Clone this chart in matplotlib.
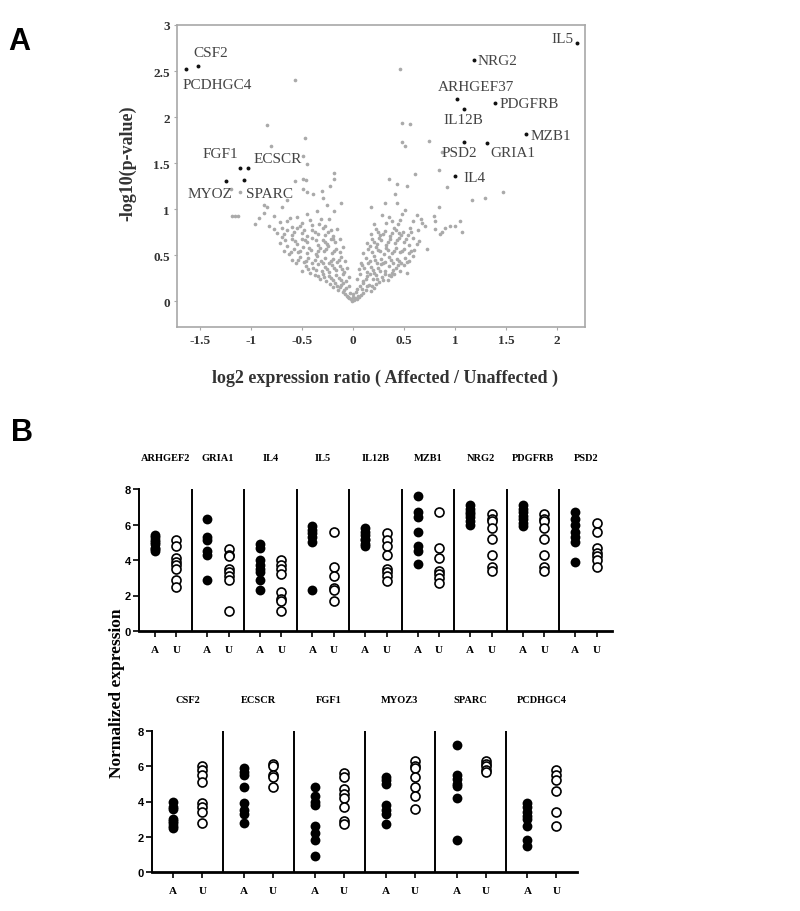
import matplotlib
matplotlib.use('Agg')
import matplotlib.pyplot as plt
import matplotlib.transforms as mtransforms

# ---- panel A data (volcano plot) ----
# background genes, (log2 ratio, -log10 p)
cloud_pts = [
    (-0.02, 0.02), (0.02, 0.03), (-0.05, 0.05), (0.05, 0.06), (0.0, 0.04), (-0.08, 0.08),
    (0.08, 0.07), (-0.03, 0.09), (0.03, 0.1), (-0.1, 0.1), (0.1, 0.09), (0.0, 0.08),
    (-0.2, 0.15), (-0.15, 0.12), (-0.12, 0.18), (-0.07, 0.14), (-0.04, 0.17), (0.04, 0.13),
    (0.07, 0.16), (0.12, 0.12), (0.15, 0.18), (0.2, 0.14), (0.22, 0.19), (-0.23, 0.19),
    (-0.18, 0.2), (0.17, 0.11), (-0.1, 0.2), (0.1, 0.2),
    (-0.38, 0.28), (-0.33, 0.24), (-0.3, 0.29), (-0.27, 0.22), (-0.24, 0.27), (-0.2, 0.23),
    (-0.17, 0.28), (-0.14, 0.25), (-0.1, 0.3), (-0.07, 0.22), (-0.04, 0.26), (0.04, 0.24),
    (0.07, 0.29), (0.1, 0.22), (0.13, 0.27), (0.16, 0.3), (0.19, 0.24), (0.22, 0.28),
    (0.25, 0.21), (0.28, 0.26), (0.31, 0.3), (0.34, 0.23), (0.37, 0.27), (0.4, 0.3),
    (-0.5, 0.33), (-0.46, 0.38), (-0.42, 0.31), (-0.39, 0.36), (-0.35, 0.4), (-0.31, 0.33),
    (-0.28, 0.37), (-0.24, 0.32), (-0.21, 0.39), (-0.17, 0.34), (-0.13, 0.38), (-0.09, 0.32),
    (-0.06, 0.36), (0.06, 0.35), (0.09, 0.39), (0.13, 0.32), (0.17, 0.37), (0.2, 0.31),
    (0.24, 0.36), (0.27, 0.4), (0.31, 0.33), (0.35, 0.38), (0.38, 0.31), (0.42, 0.36),
    (0.46, 0.33), (0.5, 0.39), (0.53, 0.31),
    (-0.6, 0.45), (-0.56, 0.41), (-0.52, 0.48), (-0.48, 0.43), (-0.44, 0.47), (-0.4, 0.42),
    (-0.36, 0.49), (-0.32, 0.44), (-0.28, 0.47), (-0.24, 0.41), (-0.2, 0.46), (-0.16, 0.43),
    (-0.12, 0.48), (-0.08, 0.44), (0.08, 0.42), (0.12, 0.47), (0.16, 0.44), (0.2, 0.49),
    (0.23, 0.41), (0.27, 0.46), (0.31, 0.43), (0.35, 0.48), (0.39, 0.42), (0.43, 0.46),
    (0.47, 0.41), (0.51, 0.47), (0.55, 0.44), (0.59, 0.49),
    (-0.68, 0.55), (-0.63, 0.51), (-0.58, 0.57), (-0.54, 0.53), (-0.49, 0.59), (-0.45, 0.52),
    (-0.41, 0.56), (-0.37, 0.51), (-0.33, 0.58), (-0.29, 0.54), (-0.25, 0.6), (-0.21, 0.52),
    (-0.17, 0.57), (-0.13, 0.53), (-0.1, 0.59), (0.1, 0.52), (0.14, 0.57), (0.18, 0.53),
    (0.22, 0.59), (0.26, 0.54), (0.3, 0.51), (0.34, 0.56), (0.38, 0.52), (0.42, 0.58),
    (0.46, 0.53), (0.5, 0.57), (0.55, 0.52), (0.6, 0.56), (0.72, 0.57),
    (-0.72, 0.63), (-0.65, 0.6), (-0.6, 0.67), (-0.55, 0.62), (-0.5, 0.68), (-0.45, 0.64),
    (-0.4, 0.69), (-0.35, 0.61), (-0.3, 0.66), (-0.26, 0.62), (-0.22, 0.68), (-0.18, 0.64),
    (-0.13, 0.67), (0.13, 0.63), (0.18, 0.68), (0.23, 0.62), (0.27, 0.66), (0.32, 0.61),
    (0.36, 0.67), (0.41, 0.63), (0.45, 0.69), (0.5, 0.64), (0.55, 0.61), (0.59, 0.69),
    (0.64, 0.65),
    (-0.75, 0.74), (-0.7, 0.7), (-0.65, 0.77), (-0.6, 0.72), (-0.55, 0.79), (-0.5, 0.74),
    (-0.45, 0.71), (-0.4, 0.77), (-0.35, 0.73), (-0.3, 0.79), (-0.25, 0.75), (-0.2, 0.71),
    (-0.16, 0.78), (0.17, 0.73), (0.22, 0.78), (0.26, 0.72), (0.31, 0.76), (0.36, 0.71),
    (0.4, 0.79), (0.45, 0.74), (0.49, 0.75), (0.54, 0.72), (0.63, 0.77), (0.8, 0.78),
    (0.85, 0.73), (0.87, 0.75),
    (-0.96, 0.84), (-0.88, 0.96), (-0.83, 0.82), (-0.78, 0.93), (-0.78, 0.78), (-0.72, 0.86),
    (-0.65, 0.87), (-0.6, 0.81), (-0.55, 0.91), (-0.5, 0.85), (-0.45, 0.95), (-0.4, 0.83),
    (-0.36, 0.98), (-0.32, 0.89), (-0.24, 0.89), (-0.19, 0.98), (-0.28, 0.82), (0.2, 0.84),
    (0.28, 0.94), (0.35, 0.91), (0.38, 0.87), (0.44, 0.84), (0.51, 0.99), (0.59, 0.87),
    (0.66, 0.89), (0.67, 0.85), (0.79, 0.93), (0.8, 0.87), (0.84, 1.02), (0.95, 0.82),
    (1.0, 0.82), (1.05, 0.87), (1.07, 0.75), (0.48, 0.95),
    (-1.19, 0.93), (-1.16, 0.93), (-1.13, 0.93), (-0.88, 1.05), (-0.85, 1.02), (-0.57, 1.3),
    (-0.49, 1.33), (-0.46, 1.32), (-0.49, 1.22), (-0.45, 1.19), (-0.39, 1.16), (-0.31, 1.2),
    (-0.3, 1.12), (-0.19, 1.39), (-0.19, 1.33), (-0.23, 1.25), (-0.12, 1.07), (-0.26, 1.05),
    (0.17, 1.02), (0.31, 1.07), (0.43, 1.07), (0.35, 1.33), (0.43, 1.27), (0.53, 1.25),
    (0.41, 1.16), (0.61, 1.38), (0.84, 1.42), (0.92, 1.24), (1.16, 1.1), (1.29, 1.12),
    (1.47, 1.19), (-1.11, 1.19), (-1.2, 1.22), (-0.65, 1.1), (-0.7, 1.02),
    (0.46, 2.52), (-0.57, 2.4), (-0.85, 1.91), (-0.47, 1.77), (-0.81, 1.69), (-0.49, 1.58),
    (-0.45, 1.49), (0.48, 1.94), (0.56, 1.92), (0.48, 1.73), (0.51, 1.69), (0.74, 1.74),
    (0.87, 1.62),
    # second pass over the dense V
    (-0.01, 0.0), (0.01, 0.01), (-0.04, 0.03), (0.04, 0.02), (-0.06, 0.06), (0.06, 0.04),
    (-0.09, 0.12), (0.09, 0.13), (-0.13, 0.15), (0.13, 0.16), (-0.16, 0.17), (0.18, 0.16),
    (-0.12, 0.23), (0.12, 0.24), (-0.22, 0.25), (0.23, 0.24), (-0.29, 0.26), (0.29, 0.23),
    (-0.35, 0.27), (0.35, 0.28), (-0.44, 0.35), (0.44, 0.39), (-0.37, 0.34), (0.39, 0.34),
    (-0.26, 0.35), (0.26, 0.33), (-0.19, 0.36), (0.19, 0.34), (-0.11, 0.35), (0.11, 0.36),
    (-0.54, 0.45), (0.53, 0.43), (-0.46, 0.44), (0.45, 0.44), (-0.38, 0.45), (0.37, 0.45),
    (-0.3, 0.42), (0.29, 0.41), (-0.22, 0.44), (0.21, 0.45), (-0.14, 0.45), (0.14, 0.41),
    (-0.61, 0.53), (0.57, 0.54), (-0.52, 0.55), (0.48, 0.55), (-0.43, 0.58), (0.4, 0.55),
    (-0.35, 0.55), (0.32, 0.58), (-0.27, 0.57), (0.24, 0.56), (-0.19, 0.55), (0.16, 0.6),
    (-0.67, 0.66), (0.62, 0.62), (-0.57, 0.65), (0.52, 0.67), (-0.47, 0.66), (0.43, 0.66),
    (-0.37, 0.66), (0.34, 0.64), (-0.28, 0.64), (0.25, 0.69), (-0.2, 0.67), (0.2, 0.64),
    (-0.68, 0.73), (0.57, 0.75), (-0.58, 0.75), (0.47, 0.72), (-0.48, 0.77), (0.38, 0.74),
    (-0.38, 0.75), (0.29, 0.73), (-0.28, 0.72), (0.24, 0.75), (-0.22, 0.77), (0.42, 0.77),
    (-0.7, 0.8), (0.7, 0.82), (-0.52, 0.82), (0.56, 0.8), (-0.42, 0.88), (0.46, 0.88),
    (-0.34, 0.84), (0.32, 0.85), (-0.62, 0.9), (0.62, 0.94), (-0.92, 0.9), (0.9, 0.8),
]

hl_names = ['IL5', 'NRG2', 'ARHGEF37', 'PDGFRB', 'IL12B', 'MZB1', 'PSD2', 'GRIA1', 'IL4',
            'CSF2', 'PCDHGC4', 'FGF1', 'ECSCR', 'MYOZ', 'SPARC']
hl_x = [2.19, 1.18, 1.02, 1.39, 1.09, 1.69, 1.09, 1.31, 1.00,
        -1.52, -1.64, -1.11, -1.03, -1.25, -1.07]
hl_y = [2.80, 2.62, 2.20, 2.15, 2.09, 1.82, 1.73, 1.72, 1.36,
        2.55, 2.52, 1.45, 1.45, 1.30, 1.32]

vol_xticks = [-1.5, -1, -0.5, 0, 0.5, 1, 1.5, 2]
vol_xlabels = ['-1.5', '-1', '-0.5', '0', '0.5', '1', '1.5', '2']
vol_yticks = [0, 0.5, 1, 1.5, 2, 2.5, 3]
vol_ylabels = ['0', '0.5', '1', '1.5', '2', '2.5', '3']

# ---- panel B data (normalized expression, A = affected, U = unaffected) ----
top_genes = ['ARHGEF2', 'GRIA1', 'IL4', 'IL5', 'IL12B', 'MZB1', 'NRG2', 'PDGFRB', 'PSD2']
top_A = [
    [5.4, 5.3, 5.1, 5.0, 4.9, 4.7, 4.6, 4.5],
    [6.3, 5.3, 5.1, 4.5, 4.3, 2.9],
    [4.9, 4.7, 4.0, 3.7, 3.5, 3.3, 2.9, 2.3],
    [5.9, 5.7, 5.5, 5.3, 5.0, 2.3],
    [5.8, 5.6, 5.4, 5.2, 5.1, 4.9, 4.8],
    [7.6, 6.7, 6.4, 5.6, 4.8, 4.5, 3.8],
    [7.1, 6.9, 6.7, 6.6, 6.4, 6.2, 6.0],
    [7.1, 6.9, 6.7, 6.5, 6.3, 6.1, 5.9],
    [6.7, 6.3, 6.0, 5.6, 5.3, 5.0, 3.9],
]
top_U = [
    [5.1, 4.8, 4.1, 3.9, 3.7, 3.5, 2.9, 2.5],
    [4.6, 4.3, 4.2, 3.5, 3.3, 3.1, 2.9, 1.1],
    [4.0, 3.7, 3.5, 3.2, 2.2, 1.8, 1.7, 1.1],
    [5.6, 3.6, 3.1, 2.4, 2.3, 1.7],
    [5.5, 5.1, 4.8, 4.3, 3.5, 3.3, 3.1, 2.8],
    [6.7, 4.7, 4.1, 3.4, 3.2, 3.0, 2.7],
    [6.6, 6.3, 6.2, 5.8, 5.2, 4.3, 3.6, 3.4],
    [6.6, 6.3, 6.2, 5.8, 5.2, 4.3, 3.6, 3.4],
    [6.1, 5.6, 4.7, 4.4, 4.2, 4.0, 3.6],
]

bot_genes = ['CSF2', 'ECSCR', 'FGF1', 'MYOZ3', 'SPARC', 'PCDHGC4']
bot_A = [
    [4.0, 3.7, 3.6, 3.0, 2.9, 2.8, 2.6, 2.5],
    [5.9, 5.7, 5.5, 4.8, 3.9, 3.5, 3.3, 2.8],
    [4.8, 4.3, 4.0, 3.8, 2.6, 2.2, 1.8, 0.9],
    [5.4, 5.2, 5.0, 3.8, 3.5, 3.3, 2.7],
    [7.2, 5.5, 5.3, 5.0, 4.9, 4.2, 1.8],
    [3.9, 3.7, 3.4, 3.2, 3.0, 2.6, 1.8, 1.5],
]
bot_U = [
    [6.0, 5.8, 5.5, 5.1, 3.9, 3.7, 3.4, 2.8],
    [6.1, 6.0, 5.5, 5.4, 4.8],
    [5.6, 5.4, 4.7, 4.4, 4.2, 3.7, 2.9, 2.7],
    [6.3, 6.0, 5.9, 5.4, 4.8, 4.3, 3.6],
    [6.3, 6.1, 6.0, 5.8, 5.7],
    [5.8, 5.5, 5.2, 4.6, 3.4, 2.6],
]

groups = ['A', 'U']
expr_yticks = [0, 2, 4, 6, 8]

SERIF = 'Liberation Serif'
SANS = 'Liberation Sans'

# label offsets from the highlighted point (dx, dy, ha) - layout only
lbl_off = {
    'IL5': (-0.03, 0.05, 'right'), 'NRG2': (0.04, -0.01, 'left'),
    'ARHGEF37': (0.18, 0.13, 'center'), 'PDGFRB': (0.04, 0.0, 'left'),
    'IL12B': (-0.01, -0.12, 'center'), 'MZB1': (0.05, -0.02, 'left'),
    'PSD2': (-0.05, -0.11, 'center'), 'GRIA1': (0.03, -0.10, 'left'),
    'IL4': (0.08, -0.02, 'left'), 'CSF2': (0.125, 0.15, 'center'),
    'PCDHGC4': (0.305, -0.17, 'center'), 'FGF1': (-0.19, 0.15, 'center'),
    'ECSCR': (0.29, 0.10, 'center'), 'MYOZ': (-0.15, -0.13, 'center'),
    'SPARC': (0.25, -0.15, 'center'),
}

fig = plt.figure(figsize=(8, 9.12), dpi=100)

# ================= panel A =================
axA = fig.add_axes([0.221, 0.6404, 0.51, 0.3311])
cx = [p[0] for p in cloud_pts]
cy = [p[1] for p in cloud_pts]
axA.scatter(cx, cy, s=7, color='#aaaaaa', linewidths=0)
axA.scatter(hl_x, hl_y, s=8, color='#111111', linewidths=0, zorder=3)
for name, x, y in zip(hl_names, hl_x, hl_y):
    dx, dy, ha = lbl_off[name]
    axA.text(x + dx, y + dy, name, ha=ha, va='center', fontsize=11,
             family=SERIF, color='#444444')
axA.set_xlim(-1.73, 2.27)
axA.set_ylim(-0.28, 3.0)
axA.set_xticks(vol_xticks)
axA.set_xticklabels(vol_xlabels)
axA.set_yticks(vol_yticks)
axA.set_yticklabels(vol_ylabels)
for sp in axA.spines.values():
    sp.set_color('#a8a8a8')
    sp.set_linewidth(1.2)
axA.tick_params(length=2, color='#a8a8a8', pad=3, labelsize=9.5, labelcolor='#333333')
for lab in axA.get_xticklabels() + axA.get_yticklabels():
    lab.set_family(SERIF)
    lab.set_fontweight('bold')
fig.text(385 / 800, 1 - 378 / 912, 'log2 expression ratio ( Affected / Unaffected )',
         ha='center', va='center', fontsize=13, family=SERIF, fontweight='bold',
         color='#333333')
fig.text(128 / 800, 1 - 163 / 912, '-log10(p-value)', ha='center', va='center',
         rotation=90, fontsize=13, family=SERIF, fontweight='bold', color='#333333')
fig.text(19 / 800, 1 - 42 / 912, 'A', ha='center', va='center', fontsize=22,
         family=SANS, fontweight='bold')


# ================= panel B =================
def dot_row(ax, genes, vals_A, vals_U):
    n = len(genes)
    xpos = {'A': 0.3, 'U': 0.71}
    for i, g in enumerate(genes):
        ax.scatter([i + xpos['A']] * len(vals_A[i]), vals_A[i], s=50, color='black',
                   linewidths=0, zorder=3, clip_on=False)
        ax.scatter([i + xpos['U']] * len(vals_U[i]), vals_U[i], s=42, facecolors='white',
                   edgecolors='black', linewidths=1.2, zorder=3, clip_on=False)
        ax.text(i + 0.5, 1.22, g, transform=mtransforms.blended_transform_factory(ax.transData, ax.transAxes),
                ha='center', va='center', fontsize=7.5, family=SERIF, fontweight='bold')
        if i > 0:
            ax.plot([i, i], [0, 8], color='black', lw=1.4, zorder=2, solid_capstyle='butt')
    ticks = []
    labels = []
    for i in range(n):
        for gr in groups:
            ticks.append(i + xpos[gr])
            labels.append(gr)
    ax.set_xticks(ticks)
    ax.set_xticklabels(labels)
    ax.set_xlim(0, n)
    ax.set_ylim(0, 8)
    ax.set_yticks(expr_yticks)
    ax.spines['top'].set_visible(False)
    ax.spines['right'].set_visible(False)
    ax.spines['left'].set_linewidth(1.4)
    ax.spines['bottom'].set_linewidth(2.0)
    ax.tick_params(axis='x', length=4, width=1.2, pad=6, labelsize=8)
    ax.tick_params(axis='y', length=4, width=1.2, pad=2, labelsize=8)
    for lab in ax.get_xticklabels():
        lab.set_family(SERIF)
        lab.set_fontweight('bold')
    for lab in ax.get_yticklabels():
        lab.set_family(SANS)
        lab.set_fontweight('bold')


axB1 = fig.add_axes([139 / 800, 1 - 632 / 912, (612 - 139) / 800, (632 - 490) / 912])
dot_row(axB1, top_genes, top_A, top_U)
axB2 = fig.add_axes([152 / 800, 1 - 873 / 912, (577 - 152) / 800, (873 - 732) / 912])
dot_row(axB2, bot_genes, bot_A, bot_U)

fig.text(117 / 800, 1 - 693 / 912, 'Normalized expression', ha='center', va='center',
         rotation=90, fontsize=12.5, family=SERIF, fontweight='bold')
fig.text(22 / 800, 1 - 433 / 912, 'B', ha='center', va='center', fontsize=22,
         family=SANS, fontweight='bold')

fig.savefig('out.png', dpi=100)
